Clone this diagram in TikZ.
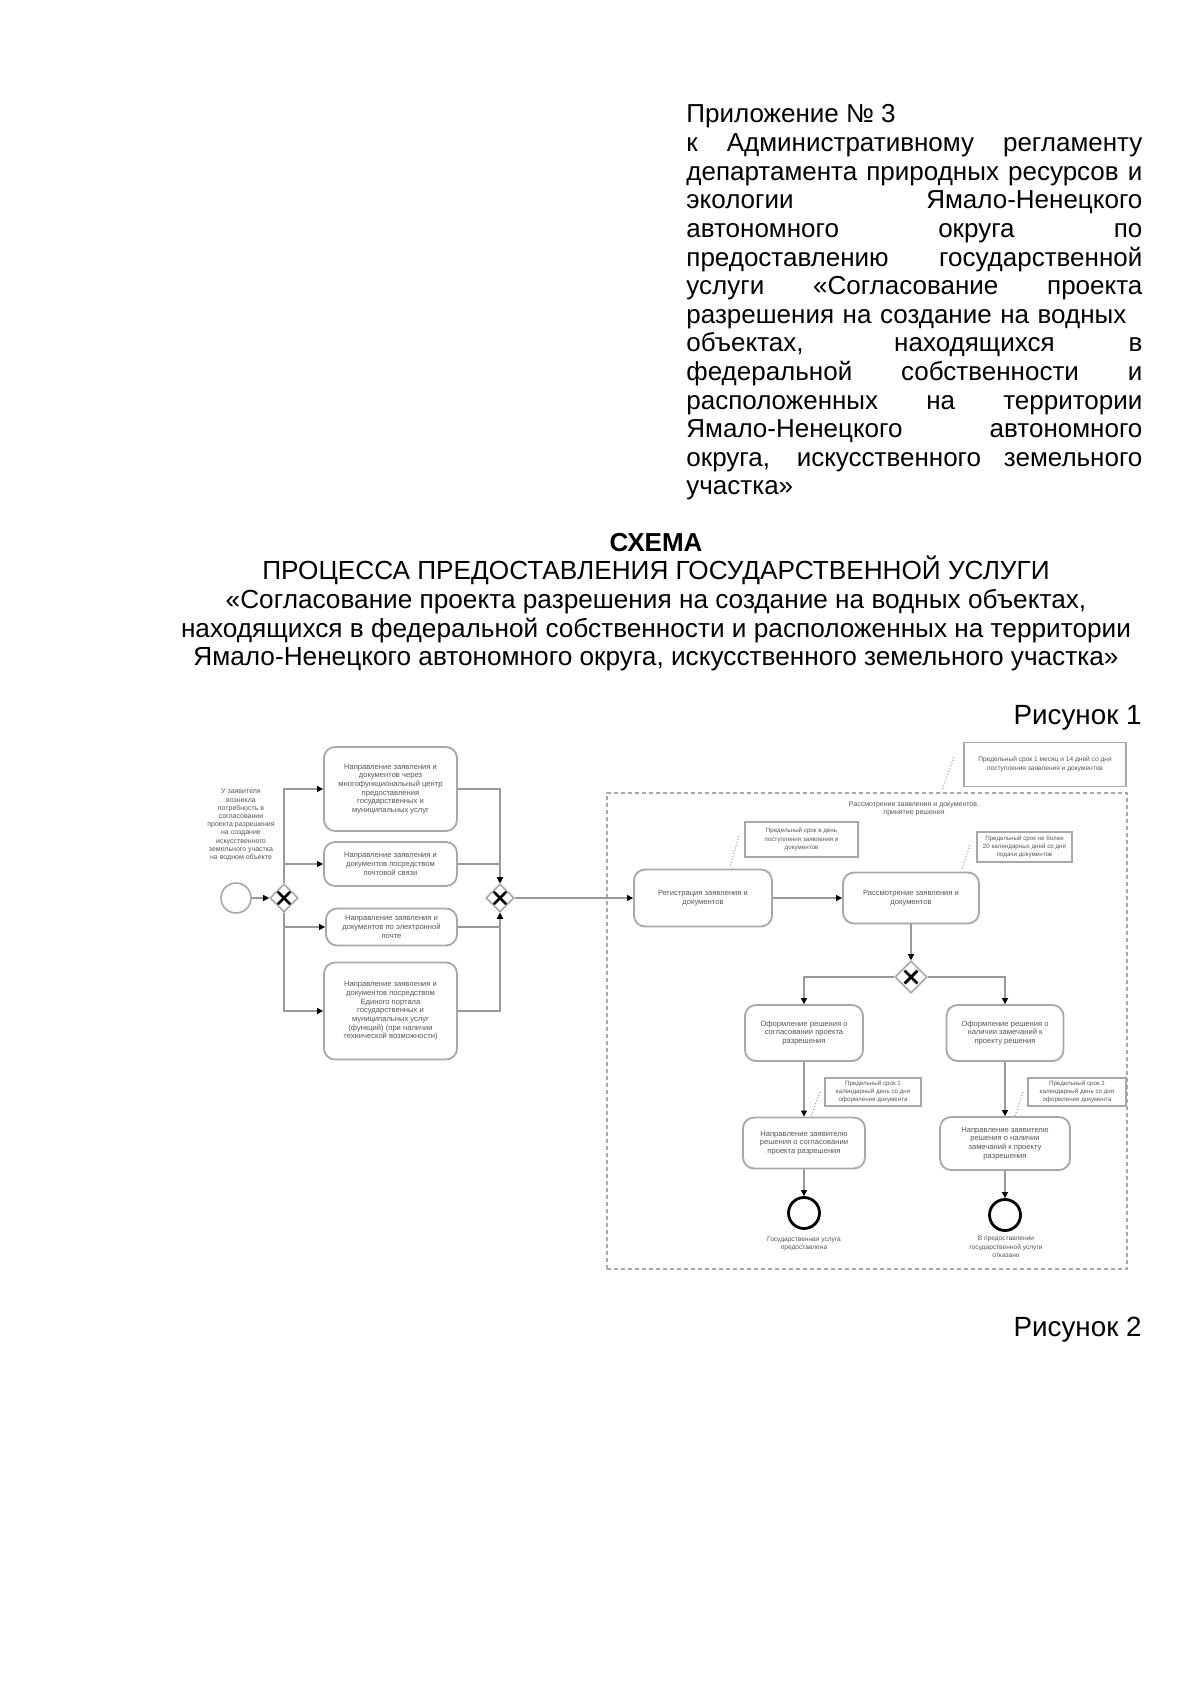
\documentclass[tikz,border=0pt]{standalone}
\usepackage{fontspec}
\setmainfont{Liberation Sans}
\usetikzlibrary{arrows.meta,shapes.geometric,calc}
\definecolor{boxgray}{HTML}{A8A8A8}
\definecolor{linegray}{HTML}{999999}
\definecolor{dtext}{HTML}{555555}
\begin{document}
\begin{tikzpicture}[x=0.5pt,y=-0.5pt,
  hdr/.style={anchor=base west,inner sep=0pt,font=\fontsize{13}{14.3}\selectfont},
  ttl/.style={anchor=base,inner sep=0pt,font=\fontsize{13.1}{14.3}\selectfont},
  fig/.style={anchor=base east,inner sep=0pt,font=\fontsize{13.9}{15}\selectfont},
  task/.style={draw=boxgray,line width=0.9pt,rounded corners=5.5pt,align=center,inner sep=1pt,text=dtext,font=\fontsize{3.8}{4.35}\selectfont},
  note/.style={draw=boxgray,line width=0.6pt,align=center,inner sep=0.5pt,text=dtext,font=\fontsize{3.1}{4.1}\selectfont},
  plain/.style={align=center,inner sep=0pt,text=dtext,font=\fontsize{3.5}{4.1}\selectfont},
  gw/.style={diamond,draw=boxgray,line width=0.8pt,fill=white,inner sep=0pt,minimum width=#1,minimum height=#1,
    path picture={\draw[line width=1.4pt,black]
      ([shift={(-3.2pt,-3.2pt)}]path picture bounding box.center) -- ([shift={(3.2pt,3.2pt)}]path picture bounding box.center)
      ([shift={(-3.2pt,3.2pt)}]path picture bounding box.center) -- ([shift={(3.2pt,-3.2pt)}]path picture bounding box.center);}},
  gw/.default=14pt,
  startev/.style={circle,draw=boxgray,line width=0.8pt,minimum size=15pt,inner sep=0pt},
  endev/.style={circle,draw=black,line width=1.4pt,minimum size=15.5pt,inner sep=0pt},
  flow/.style={draw=linegray,line width=0.55pt,-{Triangle[length=3pt,width=3pt,color=black]}},
  assoc/.style={draw=linegray,line width=0.5pt,densely dotted},
  pool/.style={draw=boxgray,line width=0.7pt,dash pattern=on 2pt off 1.5pt,inner sep=0pt}
]
\fill[white] (0,0) rectangle (1200,1696);
\useasboundingbox (0,0) rectangle (1200,1696);

% ---------- header ----------
\node[hdr] (h1) at (686,123) {Приложение № 3};
\node[hdr] (h2) at (686,151.6) {\makebox[228pt][s]{к Административному регламенту}};
\node[hdr] (h3) at (686,180.2) {\makebox[228pt][s]{департамента природных ресурсов и}};
\node[hdr] (h4) at (686,208.8) {\makebox[228pt][s]{экологии Ямало-Ненецкого}};
\node[hdr] (h5) at (686,237.4) {\makebox[228pt][s]{автономного округа по}};
\node[hdr] (h6) at (686,266) {\makebox[228pt][s]{предоставлению государственной}};
\node[hdr] (h7) at (686,294.6) {\makebox[228pt][s]{услуги «Согласование проекта}};
\node[hdr] (h8) at (686,323.2) {\makebox[220pt][s]{разрешения на создание на водных}};
\node[hdr] (h9) at (686,351.8) {\makebox[228pt][s]{объектах, находящихся в}};
\node[hdr] (h10) at (686,380.4) {\makebox[228pt][s]{федеральной собственности и}};
\node[hdr] (h11) at (686,409) {\makebox[228pt][s]{расположенных на территории}};
\node[hdr] (h12) at (686,437.6) {\makebox[228pt][s]{Ямало-Ненецкого автономного}};
\node[hdr] (h13) at (686,466.2) {\makebox[228pt][s]{округа, искусственного земельного}};
\node[hdr] (h14) at (686,494.8) {участка»};

% ---------- title ----------
\node[ttl,font=\fontsize{13}{14.3}\selectfont\bfseries] (t1) at (656,551) {СХЕМА};
\node[ttl] (t2) at (656,579.7) {ПРОЦЕССА ПРЕДОСТАВЛЕНИЯ ГОСУДАРСТВЕННОЙ УСЛУГИ};
\node[ttl] (t3) at (656,608.4) {«Согласование проекта разрешения на создание на водных объектах,};
\node[ttl] (t4) at (656,637.1) {находящихся в федеральной собственности и расположенных на территории};
\node[ttl] (t5) at (656,665.8) {Ямало-Ненецкого автономного округа, искусственного земельного участка»};

\node[fig] (fig1) at (1142,724) {Рисунок 1};
\node[fig] (fig2) at (1142,1336) {Рисунок 2};

% ---------- pool ----------
\node[pool,minimum width=260pt,minimum height=238pt] (pool) at (867,1031) {};
\node[plain] (pl) at (914,809) {Рассмотрение заявления и документов,\\принятие решения};

% ---------- left part ----------
\node[plain] (u) at (241,825) {У заявителя\\возникла\\потребность в\\согласовании\\проекта разрешения\\на создание\\искусственного\\земельного участка\\на водном объекте};
\node[startev] (s) at (236,898) {};
\node[gw] (g1) at (284,898) {};
\node[task,minimum width=66.5pt,minimum height=42pt] (b1) at (390.5,789) {Направление заявления и\\документов через\\многофункциональный центр\\предоставления\\государственных и\\муниципальных услуг};
\node[task,minimum width=66.5pt,minimum height=22pt] (b2) at (390.5,864) {Направление заявления и\\документов посредством\\почтовой связи};
\node[task,minimum width=65.5pt,minimum height=18.5pt] (b3) at (391.5,927) {Направление заявления и\\документов по электронной\\почте};
\node[task,minimum width=66.5pt,minimum height=48.5pt] (b4) at (390.5,1011) {Направление заявления и\\документов посредством\\Единого портала\\государственных и\\муниципальных услуг\\(функций) (при наличии\\технической возможности)};
\node[gw] (g2) at (500,898) {};

\draw[flow] (s) -- (g1);
\draw[flow] (g1.north) |- (b1);
\draw[flow] (g1.north) |- (b2);
\draw[flow] (g1.south) |- (b3);
\draw[flow] (g1.south) |- (b4);
\draw[flow] (b1) -| (g2.north);
\draw[flow] (b2) -| (g2.north);
\draw[flow] (b3) -| (g2.south);
\draw[flow] (b4) -| (g2.south);

% ---------- right part ----------
\node[task,minimum width=69pt,minimum height=28.5pt] (r1) at (703,898) {Регистрация заявления и\\документов};
\node[task,minimum width=68pt,minimum height=25.5pt] (r2) at (911,898) {Рассмотрение заявления и\\документов};
\node[gw=16pt] (g3) at (911,977) {};
\node[task,minimum width=59pt,minimum height=28pt] (d1) at (804,1033) {Оформление решения о\\согласовании проекта\\разрешения};
\node[task,minimum width=58.5pt,minimum height=28pt] (d2) at (1005,1033) {Оформление решения о\\наличии замечаний к\\проекту решения};
\node[task,minimum width=61pt,minimum height=25.5pt] (n1) at (804,1143) {Направление заявителю\\решения о согласовании\\проекта разрешения};
\node[task,minimum width=65pt,minimum height=26.5pt] (n2) at (1005,1143.5) {Направление заявителю\\решения о наличии\\замечаний к проекту\\разрешения};
\node[endev] (e1) at (804,1213) {};
\node[endev] (e2) at (1005,1215) {};
\node[plain,font=\fontsize{3.3}{4.3}\selectfont] (l1) at (804,1244) {Государственная услуга\\предоставлена};
\node[plain,font=\fontsize{3.3}{4.3}\selectfont] (l2) at (1006,1247) {В предоставлении\\государственной услуги\\отказано};

\draw[flow] (g2) -- (r1);
\draw[flow] (r1) -- (r2);
\draw[flow] (r2) -- (g3);
\draw[flow] (g3.west) -| (d1);
\draw[flow] (g3.east) -| (d2);
\draw[flow] (d1) -- (n1);
\draw[flow] (d2) -- (n2);
\draw[flow] (n1) -- (e1);
\draw[flow] (n2) -- (e2);

% ---------- annotations ----------
\node[note,font=\fontsize{3.3}{4.3}\selectfont,minimum width=81pt,minimum height=22pt] (a0) at (1045,764.5) {Предельный срок 1 месяц и 14 дней со дня\\поступления заявления и документов};
\node[note,minimum width=56.5pt,minimum height=17.5pt] (a1) at (801.5,839.5) {Предельный срок в день\\поступления заявления и\\документов};
\node[note,minimum width=47.5pt,minimum height=15pt] (a2) at (1024.5,847) {Предельный срок не более\\20 календарных дней со дня\\подачи документов};
\node[note,minimum width=48pt,minimum height=14pt] (a3) at (873,1092) {Предельный срок 1\\календарный день со дня\\оформления документа};
\node[note,minimum width=49pt,minimum height=14pt] (a4) at (1077,1092) {Предельный срок 1\\календарный день со дня\\оформления документа};

\coordinate (c0a) at (954,757); \coordinate (c0b) at (942,791);
\coordinate (c1a) at (739,836); \coordinate (c1b) at (730,866);
\coordinate (c2a) at (970,845); \coordinate (c2b) at (962,869);
\coordinate (c3a) at (820,1092); \coordinate (c3b) at (811,1116);
\coordinate (c4a) at (1023,1092); \coordinate (c4b) at (1015,1116);
\draw[assoc] (c0a) -- (c0b);
\draw[assoc] (c1a) -- (c1b);
\draw[assoc] (c2a) -- (c2b);
\draw[assoc] (c3a) -- (c3b);
\draw[assoc] (c4a) -- (c4b);
\end{tikzpicture}
\end{document}
